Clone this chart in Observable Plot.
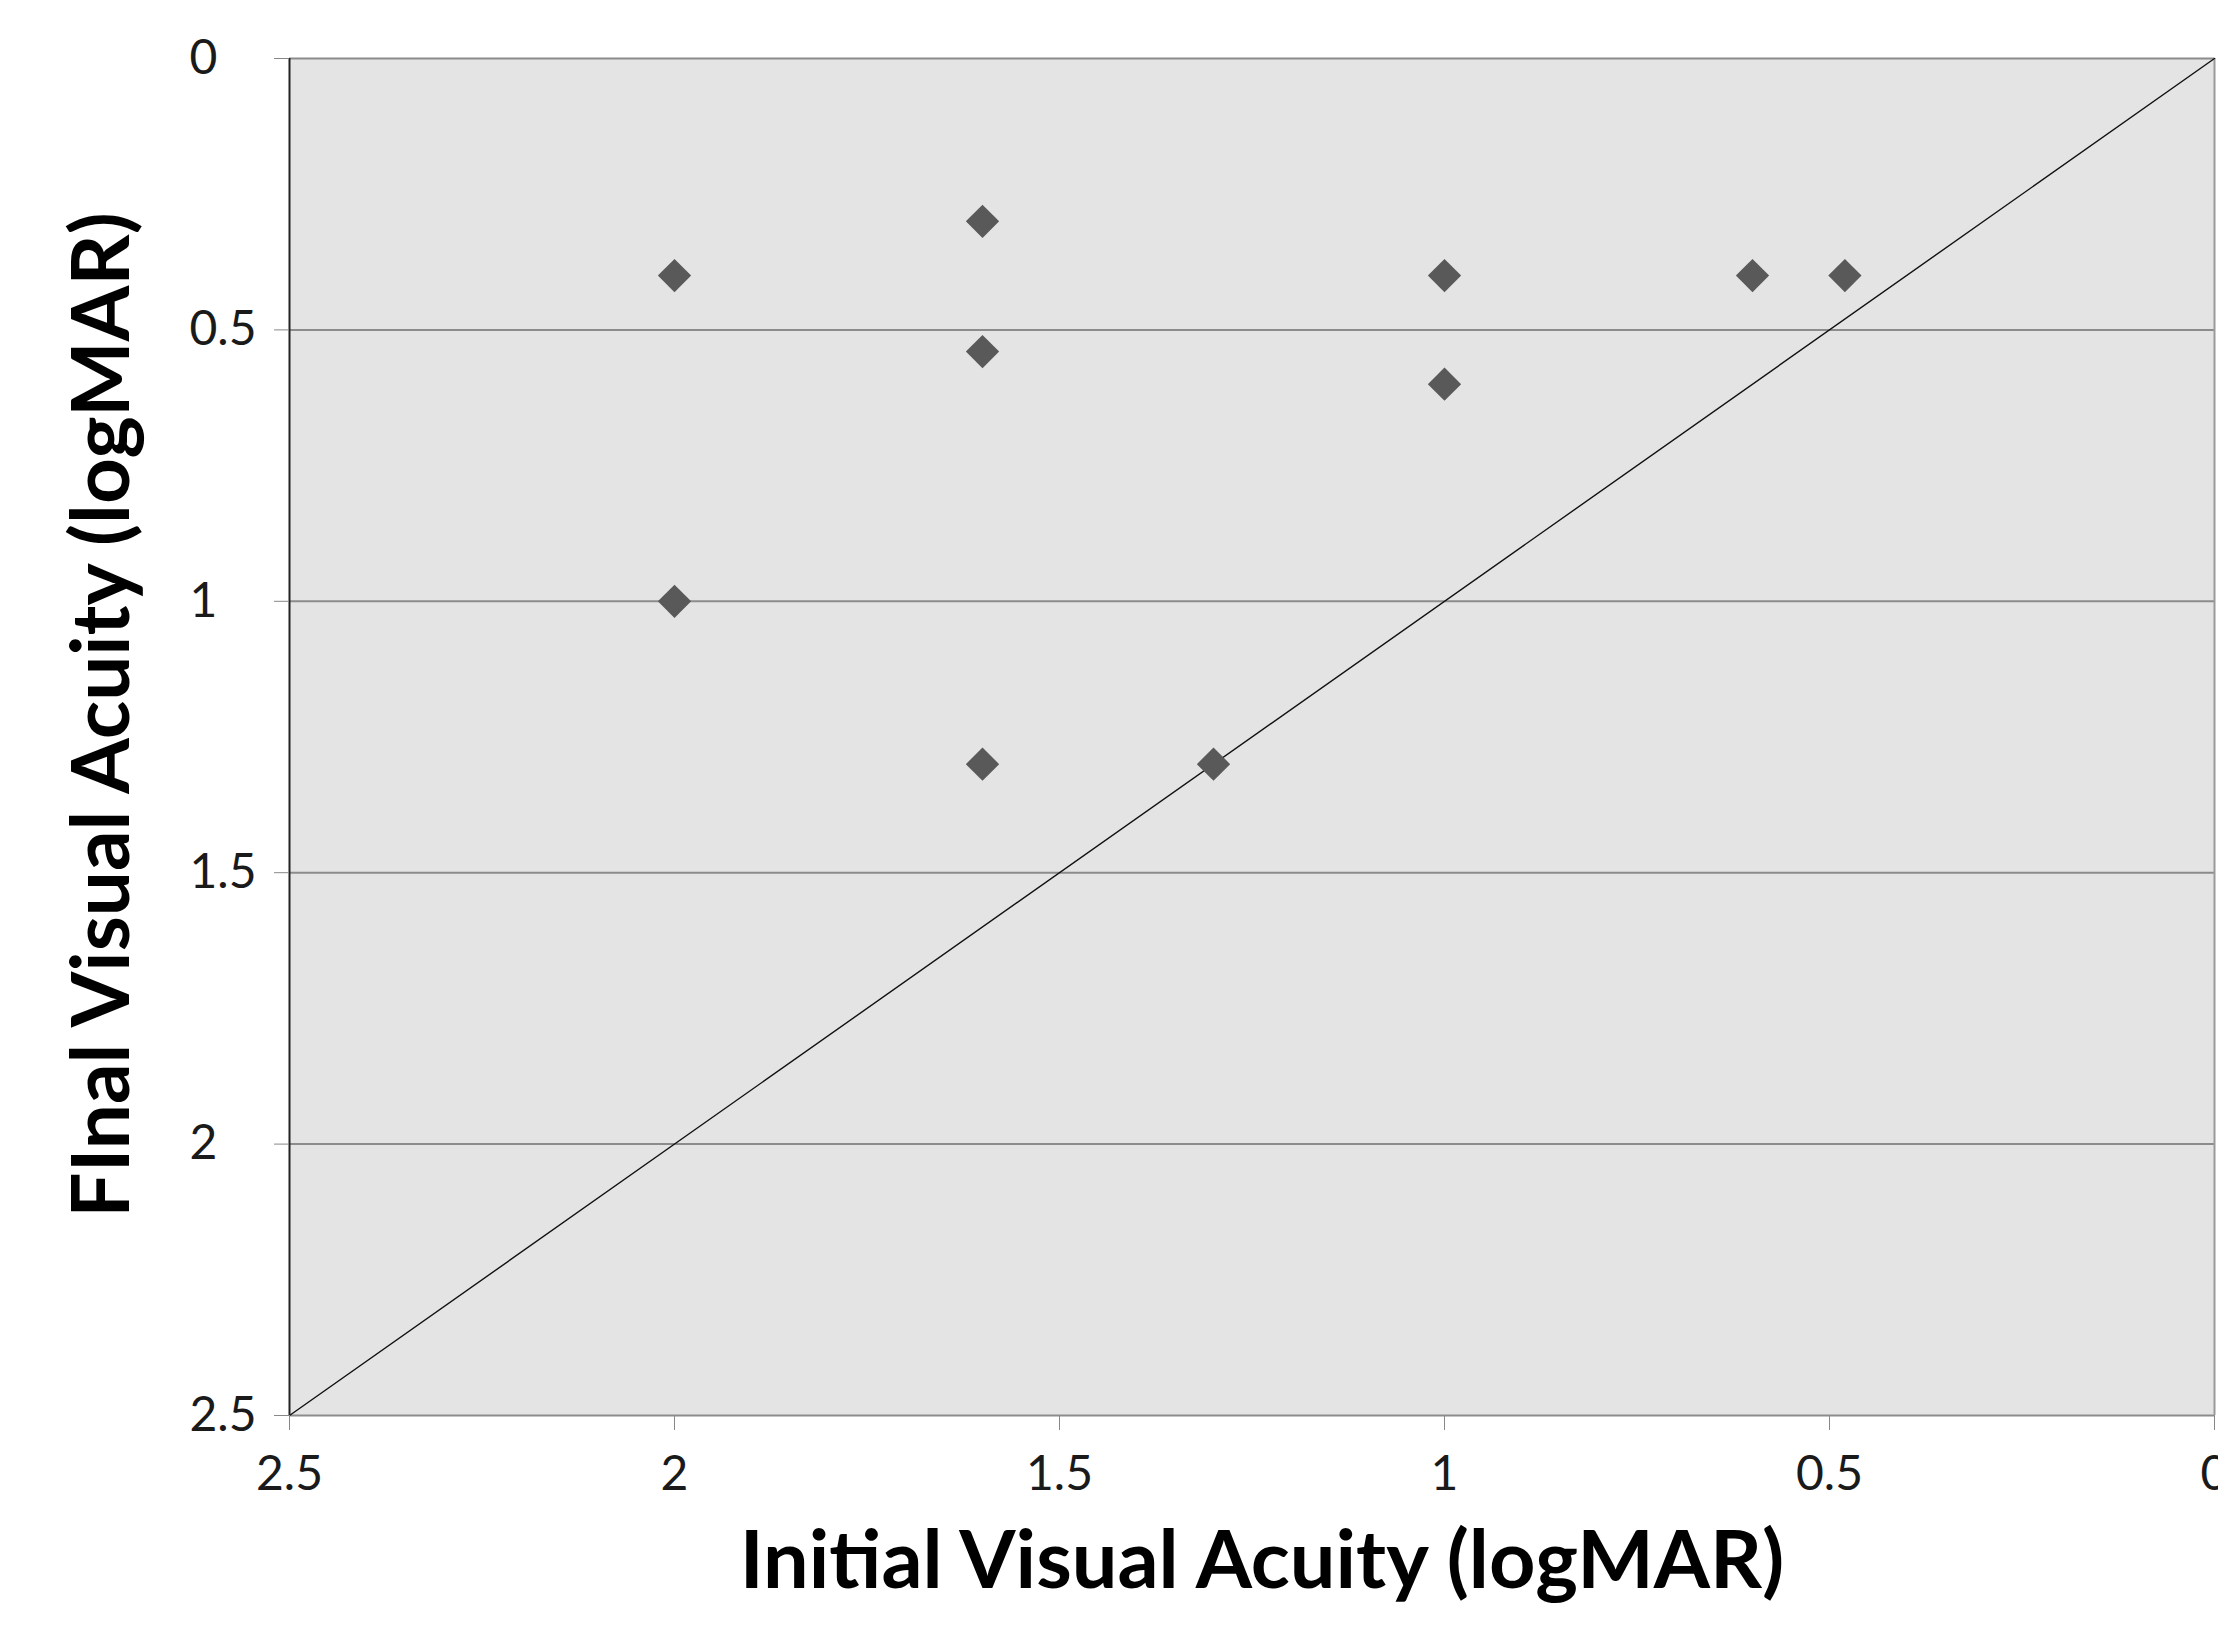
<!DOCTYPE html>
<html><head><meta charset="utf-8">
<script src="https://cdn.jsdelivr.net/npm/d3@7"></script>
<script src="https://cdn.jsdelivr.net/npm/@observablehq/plot@0.6"></script>
<style>html,body{margin:0;padding:0;background:#fff;overflow:hidden}</style>
</head><body><div id="chart"></div>
<script>
const initialVA = [2.0, 2.0, 1.6, 1.6, 1.6, 1.3, 1.0, 1.0, 0.6, 0.48];
const finalVA   = [0.4, 1.0, 0.3, 0.54, 1.3, 1.3, 0.4, 0.6, 0.4, 0.4];
const xTicks = [2.5, 2, 1.5, 1, 0.5, 0];
const yTicks = [0, 0.5, 1, 1.5, 2, 2.5];
const gridValues = [0, 0.5, 1, 1.5, 2, 2.5];
const identityLine = [2.5, 0];
const xTitle = "Initial Visual Acuity (logMAR)";
const yTitle = "FInal Visual Acuity (logMAR)";

const points = initialVA.map((x, i) => ({x, y: finalVA[i]}));
const diag = identityLine.map(v => ({v}));

const chart = Plot.plot({
  width: 2218, height: 1626,
  marginLeft: 289, marginRight: 4, marginTop: 58, marginBottom: 211,
  style: {fontFamily: "Lato, sans-serif", fontSize: "48px", color: "#1a1a1a", background: "white"},
  x: {domain: [2.5, 0], label: null},
  y: {domain: [0, 2.5], reverse: true, label: null},
  marks: [
    Plot.frame({fill: "#e4e4e4", stroke: null}),
    Plot.ruleY(gridValues, {stroke: "#8c8c8c", strokeWidth: 2}),
    Plot.ruleX([0], {stroke: "#9a9a9a", strokeWidth: 2}),
    Plot.line(diag, {x: "v", y: "v", stroke: "#111", strokeWidth: 1.4}),
    Plot.ruleX([2.5], {stroke: "#222", strokeWidth: 2}),
    Plot.dot(points, {x: "x", y: "y", symbol: "diamond2", r: 15, fill: "#595959", stroke: null}),
    Plot.axisX({ticks: xTicks, tickSize: 15, tickPadding: 25, stroke: "#888", fill: "#1a1a1a", label: null, tickFormat: d => String(d)}),
    Plot.axisY({ticks: yTicks, tickSize: 15, tickPadding: 85, textAnchor: "start", stroke: "#888", fill: "#1a1a1a", label: null, tickFormat: d => String(d)}),
    Plot.text([xTitle], {text: d => d, frameAnchor: "bottom", textAnchor: "middle", dy: 172, dx: 10, fontSize: 81, fontWeight: "bold", fill: "#000"}),
    Plot.text([yTitle], {text: d => d, frameAnchor: "left", textAnchor: "middle", dx: -186, dy: -22, rotate: -90, fontSize: 80, fontWeight: "bold", fill: "#000"})
  ]
});
document.getElementById("chart").appendChild(chart);
</script>
</body></html>
